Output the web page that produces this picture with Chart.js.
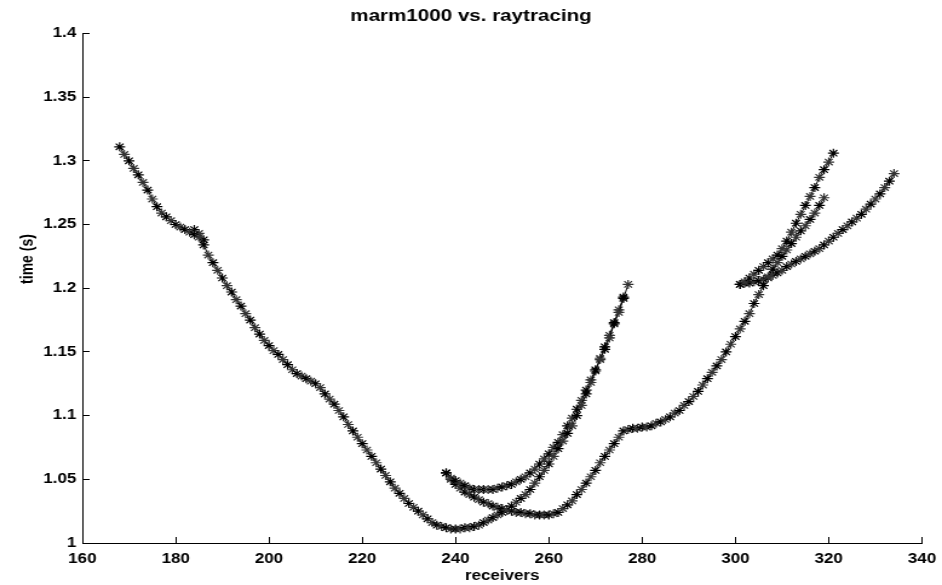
<!DOCTYPE html>
<html>
<head>
  <title>marm1000 vs. raytracing</title>
  <script src="https://cdn.jsdelivr.net/npm/chart.js@4"></script>
  <style>
    html, body { margin: 0; padding: 0; background: #fff; overflow: hidden; }
    /* the original figure was stretched sideways, so draw narrow and widen */
    #wrap {
      width: 778px;
      height: 585px;
      transform: scaleX(1.2108);
      transform-origin: 0 0;
    }
  </style>
</head>
<body>
  <div id="wrap">
    <canvas id="chart"></canvas>
  </div>

  <script>
    // tick labels
    var xTicks = [160, 180, 200, 220, 240, 260, 280, 300, 320, 340];
    var yTicks = [1, 1.05, 1.1, 1.15, 1.2, 1.25, 1.3, 1.35, 1.4];

    // arrival branches: first receiver, then one time (s) per receiver
    var mainStart = 168;
    var mainTime = [
      1.311, 1.305, 1.300, 1.294, 1.289, 1.283, 1.277, 1.270, 1.264, 1.259,
      1.256, 1.253, 1.250, 1.248, 1.246, 1.244, 1.242, 1.240, 1.234, 1.226,
      1.220, 1.214, 1.208, 1.202, 1.197, 1.191, 1.186, 1.180, 1.175, 1.169,
      1.164, 1.159, 1.155, 1.151, 1.148, 1.144, 1.140, 1.136, 1.133, 1.131,
      1.129, 1.127, 1.125, 1.122, 1.117, 1.113, 1.109, 1.104, 1.099, 1.093,
      1.088, 1.083, 1.078, 1.073, 1.068, 1.063, 1.058, 1.053, 1.048, 1.043,
      1.039, 1.035, 1.031, 1.028, 1.025, 1.022, 1.019, 1.016, 1.014, 1.013,
      1.012, 1.011, 1.011, 1.011, 1.012, 1.012, 1.013, 1.014, 1.016, 1.018,
      1.020, 1.022, 1.024, 1.026, 1.029, 1.032, 1.035, 1.038, 1.042, 1.047,
      1.052, 1.057, 1.062, 1.068, 1.074, 1.080, 1.086, 1.092, 1.100, 1.108,
      1.117, 1.126, 1.135, 1.144, 1.152, 1.161, 1.172, 1.181, 1.192, 1.203
    ];

    var kinkStart = 184;
    var kinkTime = [1.246, 1.243, 1.238];

    var upperStart = 238;
    var upperTime = [
      1.055, 1.051, 1.049, 1.047, 1.045, 1.043, 1.042, 1.042, 1.042, 1.042,
      1.042, 1.043, 1.044, 1.045, 1.046, 1.048, 1.050, 1.052, 1.055, 1.058,
      1.062, 1.066, 1.070, 1.075, 1.079, 1.085, 1.092, 1.098, 1.105, 1.112,
      1.120, 1.128, 1.136, 1.145, 1.154, 1.163, 1.173, 1.183, 1.193
    ];

    var lowerStart = 238;
    var lowerTime = [
      1.055, 1.050, 1.046, 1.043, 1.040, 1.038, 1.036, 1.034, 1.032, 1.031,
      1.029, 1.028, 1.027, 1.026, 1.025, 1.024, 1.024, 1.023, 1.023, 1.022,
      1.022, 1.022, 1.022, 1.023, 1.024, 1.027, 1.030, 1.033, 1.038, 1.042,
      1.047, 1.052, 1.057, 1.063, 1.068, 1.073, 1.078, 1.083, 1.088, 1.089,
      1.090, 1.090, 1.091, 1.091, 1.092, 1.094, 1.095, 1.097, 1.099, 1.102,
      1.104, 1.108, 1.111, 1.115, 1.119, 1.124, 1.129, 1.134, 1.139, 1.144,
      1.150, 1.156, 1.162, 1.168, 1.174, 1.180, 1.188, 1.195, 1.202, 1.209,
      1.215, 1.220, 1.225, 1.230, 1.235, 1.240, 1.245, 1.249, 1.254, 1.259,
      1.265, 1.271
    ];

    var steepStart = 301;
    var steepTime = [
      1.203, 1.205, 1.208, 1.211, 1.214, 1.217, 1.220, 1.223, 1.226, 1.231,
      1.237, 1.244, 1.251, 1.258, 1.265, 1.272, 1.279, 1.287, 1.293, 1.299,
      1.306
    ];

    var gentleStart = 301;
    var gentleTime = [
      1.203, 1.204, 1.204, 1.205, 1.206, 1.207, 1.208, 1.210, 1.212, 1.214,
      1.217, 1.219, 1.221, 1.223, 1.225, 1.227, 1.229, 1.231, 1.234, 1.237,
      1.240, 1.243, 1.246, 1.249, 1.252, 1.255, 1.258, 1.262, 1.266, 1.270,
      1.274, 1.279, 1.284, 1.290
    ];

    var FONT = '"Liberation Sans", Arial, sans-serif';

    function toPoints(start, times) {
      return times.map(function (t, i) { return { x: start + i, y: t }; });
    }

    function branch(start, times) {
      return {
        data: toPoints(start, times),
        showLine: true,
        borderColor: '#000',
        borderWidth: 1,
        pointStyle: 'star',
        pointRadius: 4.5,
        pointBorderWidth: 1.2,
        pointBorderColor: function (c) { return c.dataIndex % 2 ? '#333' : '#000'; },
        pointBackgroundColor: '#000',
        tension: 0
      };
    }

    // y label is drawn by hand, MATLAB put it a bit above the middle
    var yLabel = {
      id: 'yLabel',
      afterDraw: function (chart) {
        var ctx = chart.ctx;
        ctx.save();
        ctx.translate(23, 259);
        ctx.rotate(-Math.PI / 2);
        ctx.font = 'bold 14px ' + FONT;
        ctx.fillStyle = '#000';
        ctx.textAlign = 'center';
        ctx.textBaseline = 'middle';
        ctx.fillText('time (s)', 0, 0);
        ctx.restore();
      }
    };

    var ctx = document.getElementById('chart').getContext('2d');
    var myChart = new Chart(ctx, {
      type: 'line',
      data: {
        datasets: [
          branch(mainStart, mainTime),
          branch(kinkStart, kinkTime),
          branch(upperStart, upperTime),
          branch(lowerStart, lowerTime),
          branch(steepStart, steepTime),
          branch(gentleStart, gentleTime)
        ]
      },
      options: {
        responsive: true,
        maintainAspectRatio: false,
        animation: false,
        layout: { padding: 0 },
        plugins: {
          legend: { display: false },
          tooltip: { enabled: false },
          title: {
            display: true,
            text: 'marm1000 vs. raytracing',
            color: '#000',
            font: { family: FONT, size: 17, weight: 'bold' },
            padding: { top: 6, bottom: 7 }
          }
        },
        scales: {
          x: {
            type: 'linear',
            min: 160,
            max: 340,
            afterBuildTicks: function (s) { s.ticks = xTicks.map(function (v) { return { value: v }; }); },
            afterFit: function (s) {
              s.height = 42;
              s.paddingLeft = 0;
              s.paddingRight = 16.5;
            },
            grid: { drawOnChartArea: false, color: '#000', tickLength: -6 },
            border: { display: true, color: '#000', width: 1 },
            ticks: {
              color: '#000',
              padding: 14,
              maxRotation: 0,
              font: { family: FONT, size: 14, weight: 'bold' }
            },
            title: {
              display: true,
              text: 'receivers',
              color: '#000',
              font: { family: FONT, size: 14, weight: 'bold' },
              padding: { top: 0, bottom: 0 }
            }
          },
          y: {
            min: 1,
            max: 1.4,
            afterBuildTicks: function (s) { s.ticks = yTicks.map(function (v) { return { value: v }; }); },
            afterFit: function (s) { s.width = 68; },
            grid: { drawOnChartArea: false, color: '#000', tickLength: -6 },
            border: { display: true, color: '#000', width: 1 },
            ticks: {
              color: '#000',
              padding: 11,
              font: { family: FONT, size: 14, weight: 'bold' },
              callback: function (v) { return String(Math.round(v * 100) / 100); }
            }
          }
        }
      },
      plugins: [yLabel]
    });
  </script>
</body>
</html>
